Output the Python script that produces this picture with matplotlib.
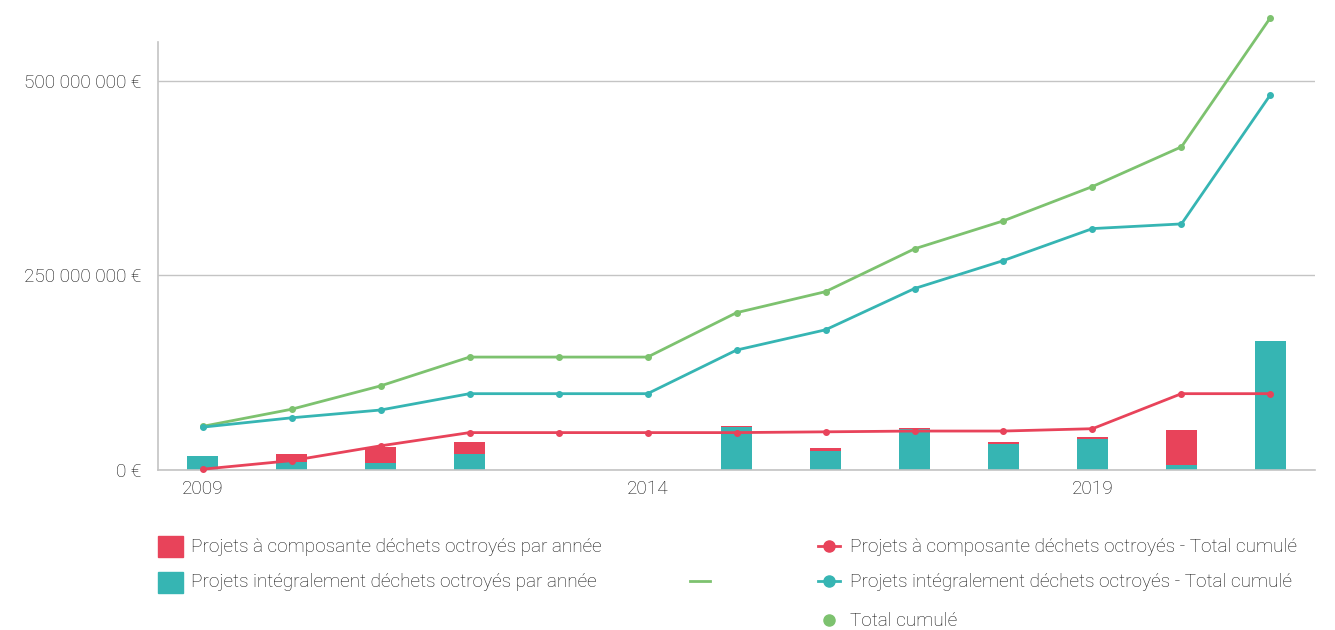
import matplotlib
matplotlib.use("Agg")
import matplotlib.pyplot as plt
from matplotlib.lines import Line2D
from matplotlib.patches import Rectangle
from matplotlib.ticker import FuncFormatter

plt.rcParams['font.family'] = ['Roboto', 'DejaVu Sans']
plt.rcParams['font.weight'] = 'light'

# data (millions d'euros)
years = [2009, 2010, 2011, 2012, 2013, 2014, 2015, 2016, 2017, 2018, 2019, 2020, 2021]
integral_year = [18, 10, 9, 21, 0, 0, 55, 25, 53, 34, 40, 6, 165]
composante_year = [0, 11, 21, 15, 0, 0, 1.5, 3, 1.5, 2, 2.5, 45, 1]
integral_cum = [55, 67, 77, 98, 98, 98, 154, 180, 233, 269, 310, 316, 482]
composante_cum = [1, 12, 31, 48, 48, 48, 48, 49, 50, 50, 53, 98, 98]
total_cum = [56, 78, 108, 145, 145, 145, 202, 229, 284, 320, 364, 415, 581]

yticks = [0, 250, 500]
xticks = [2009, 2014, 2019]

RED = '#E8435A'
TEAL = '#36B5B3'
GREEN = '#7DC26F'
GREY = '#c4c4c4'
TXT = '#111111'
FS = 13.7

fig = plt.figure(figsize=(13.35, 6.3), dpi=100)
ax = fig.add_axes([0.1184, 0.254, 0.8666, 0.6798])

ax.bar(years, integral_year, width=0.34, color=TEAL, zorder=2)
ax.bar(years, composante_year, width=0.34, bottom=integral_year, color=RED, zorder=2)

ax.plot(years, total_cum, color=GREEN, lw=2, marker='o', ms=4, zorder=3, clip_on=False)
ax.plot(years, integral_cum, color=TEAL, lw=2, marker='o', ms=4, zorder=3, clip_on=False)
ax.plot(years, composante_cum, color=RED, lw=2, marker='o', ms=4, zorder=4, clip_on=False)

ax.set_xlim(2008.5, 2021.5)
ax.set_ylim(0, 550)
ax.set_yticks(yticks)
ax.yaxis.set_major_formatter(FuncFormatter(
    lambda v, p: '0 €' if v == 0 else '{:,.0f} €'.format(v * 1e6).replace(',', ' ')))
ax.set_xticks(xticks)
ax.tick_params(axis='both', length=0, labelsize=FS, labelcolor=TXT)
ax.tick_params(axis='y', pad=12)
ax.tick_params(axis='x', pad=7)
ax.grid(axis='y', color=GREY, lw=1, zorder=0)
ax.set_axisbelow(True)
for s in ['top', 'right']:
    ax.spines[s].set_visible(False)
for s in ['left', 'bottom']:
    ax.spines[s].set_color(GREY)
    ax.spines[s].set_linewidth(1.2)


# legend, drawn by hand in pixel coords
def px(x, y):
    return x / 1335, 1 - y / 630


def label(x, y, s):
    fig.text(*px(x, y), s, fontsize=FS, color=TXT, va='center', ha='left')


x0, y0 = px(158, 557)
fig.add_artist(Rectangle((x0, y0), 25 / 1335, 21 / 630, color=RED, transform=fig.transFigure))
label(191, 547, 'Projets à composante déchets octroyés par année')
x0, y0 = px(158, 593)
fig.add_artist(Rectangle((x0, y0), 25 / 1335, 21 / 630, color=TEAL, transform=fig.transFigure))
label(191, 582, 'Projets intégralement déchets octroyés par année')

xa, ya = px(690, 581)
xb, _ = px(710, 581)
fig.add_artist(Line2D([xa, xb], [ya, ya], color=GREEN, lw=2, transform=fig.transFigure))

for yy, col, txt in [(546, RED, 'Projets à composante déchets octroyés - Total cumulé'),
                     (581, TEAL, 'Projets intégralement déchets octroyés - Total cumulé')]:
    xa, ya = px(818, yy)
    xb, _ = px(840, yy)
    fig.add_artist(Line2D([xa, xb], [ya, ya], color=col, lw=2, transform=fig.transFigure))
    fig.add_artist(Line2D([(xa + xb) / 2], [ya], color=col, marker='o', ms=8,
                          transform=fig.transFigure))
    label(850, yy + 1, txt)

xa, ya = px(829, 620)
fig.add_artist(Line2D([xa], [ya], color=GREEN, marker='o', ms=8, lw=0,
                      transform=fig.transFigure))
label(850, 621, 'Total cumulé')

fig.savefig('out.png', dpi=100)
